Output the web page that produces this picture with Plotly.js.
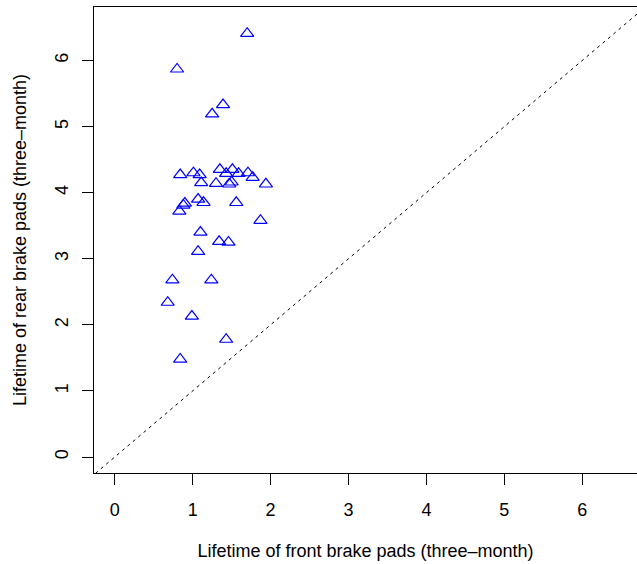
<!DOCTYPE html>
<html>
<head>
<meta charset="utf-8">
<script src="https://cdn.plot.ly/plotly-3.0.1.min.js"></script>
<style>
  html, body { margin: 0; padding: 0; background: #fff; }
  #chart { width: 637px; height: 564px; }
</style>
</head>
<body>
<div id="chart"></div>
<script>
// Lifetime of front vs rear brake pads (three-month units)
var frontLife = [1.70, 0.80, 1.39, 1.25,
  0.84, 1.01, 1.09, 1.11, 1.35, 1.43, 1.51, 1.59, 1.71, 1.77, 1.30, 1.47, 1.50, 1.94,
  0.88, 0.90, 0.83, 1.07, 1.14, 1.56, 1.87, 1.10, 1.34, 1.46, 1.07,
  0.74, 1.24, 0.68, 0.99, 1.43, 0.84];
var rearLife = [6.41, 5.87, 5.33, 5.19,
  4.27, 4.30, 4.27, 4.15, 4.35, 4.29, 4.35, 4.29, 4.30, 4.23, 4.14, 4.13, 4.16, 4.13,
  3.81, 3.84, 3.72, 3.90, 3.85, 3.85, 3.58, 3.40, 3.26, 3.25, 3.11,
  2.68, 2.68, 2.34, 2.13, 1.78, 1.48];
var diagonal = [-1, 8];
var tickVals = [0, 1, 2, 3, 4, 5, 6];

var fnt = { family: '"Liberation Sans", Arial, Helvetica, sans-serif', size: 18, color: '#000' };

var traces = [
  {
    x: diagonal, y: diagonal, mode: 'lines', type: 'scatter',
    line: { color: '#000', width: 1, dash: '3px,4px' },
    hoverinfo: 'skip', showlegend: false
  },
  {
    x: frontLife, y: rearLife, mode: 'markers', type: 'scatter',
    marker: { symbol: 'triangle-up-open', size: 11.5, color: '#0000FF', line: { width: 1.2, color: '#0000FF' } },
    showlegend: false
  }
];

var layout = {
  width: 637, height: 564,
  margin: { l: 94, r: 0, t: 7, b: 91 },
  paper_bgcolor: '#fff', plot_bgcolor: '#fff',
  font: fnt,
  showlegend: false,
  xaxis: {
    range: [-0.266, 6.703],
    tickvals: tickVals, ticktext: tickVals.map(String),
    showgrid: false, zeroline: false,
    showline: true, mirror: true, linecolor: '#000', linewidth: 1,
    ticks: 'outside', ticklen: 11, tickwidth: 1, tickcolor: '#000',
    ticklabelstandoff: 9,
    tickfont: fnt,
    title: { text: 'Lifetime of front brake pads (three\u2013month)', font: fnt, standoff: 25 }
  },
  yaxis: {
    range: [-0.242, 6.81],
    tickvals: tickVals, ticktext: tickVals.map(String),
    showgrid: false, zeroline: false,
    showline: true, mirror: false, linecolor: '#000', linewidth: 1,
    ticks: 'outside', ticklen: 11, tickwidth: 1, tickcolor: '#000',
    tickangle: -90,
    ticklabelstandoff: 7,
    tickfont: fnt,
    title: { text: 'Lifetime of rear brake pads (three\u2013month)', font: fnt, standoff: 20 }
  }
};

Plotly.newPlot('chart', traces, layout, { staticPlot: true, displayModeBar: false });
</script>
</body>
</html>
